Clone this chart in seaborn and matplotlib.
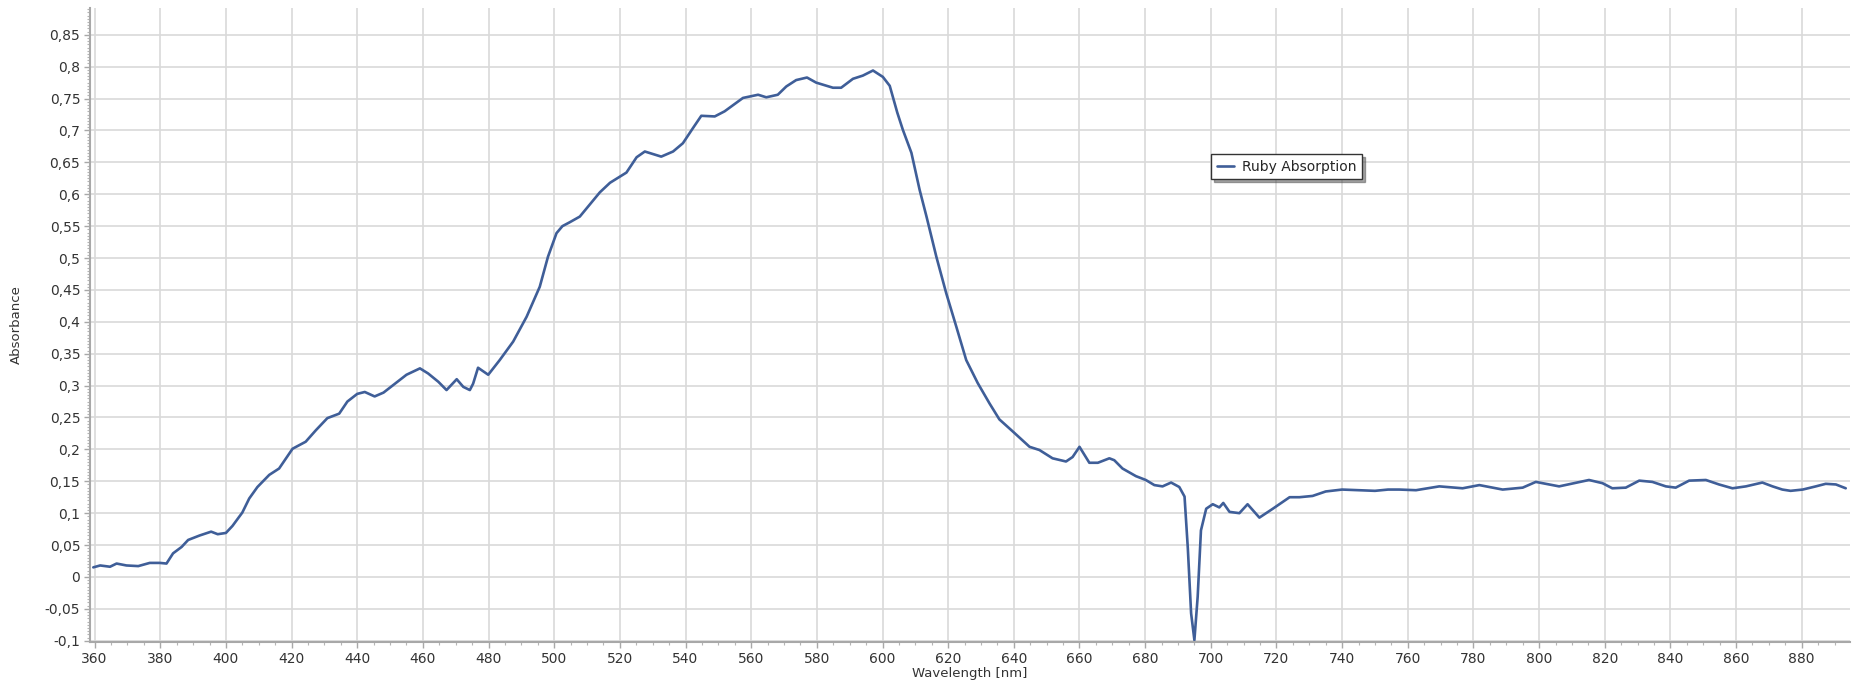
import numpy as np
import pandas as pd
import seaborn as sns
import matplotlib.pyplot as plt
from matplotlib.ticker import MultipleLocator, FuncFormatter

# Ruby absorption spectrum
wavelength = [
    359.6, 361.7, 364.7, 366.7, 369.7, 373.3, 376.8, 379.9, 381.9, 383.9,
    386.5, 388.5, 392.0, 395.5, 397.5, 400.0, 402.0, 405.0, 407.1, 409.6,
    413.2, 416.2, 420.3, 424.3, 427.4, 430.9, 434.5, 437.0, 440.0, 442.3,
    445.3, 448.0, 451.0, 455.0, 459.1, 461.6, 464.7, 467.2, 470.3, 472.3,
    474.3, 475.3, 476.8, 479.9, 483.4, 487.5, 491.6, 495.6, 498.1, 500.7,
    502.5, 504.7, 507.8, 513.9, 517.0, 522.0, 525.1, 527.6, 532.6, 536.2,
    539.2, 542.3, 544.8, 548.9, 551.9, 557.5, 562.1, 564.6, 568.1, 570.7,
    573.7, 577.0, 579.8, 584.9, 587.4, 591.0, 594.0, 597.1, 600.1, 602.2,
    604.5, 606.2, 608.8, 611.3, 613.4, 616.4, 619.4, 622.5, 625.5, 629.0,
    632.6, 635.6, 639.7, 644.8, 647.8, 651.8, 655.9, 657.9, 660.0, 663.0,
    665.6, 669.1, 670.6, 673.1, 677.2, 680.2, 682.8, 685.3, 687.9, 690.4,
    692.0, 693.0, 694.0, 695.0, 696.0, 697.0, 698.6, 700.6, 702.6, 703.8,
    705.7, 708.7, 711.2, 714.8, 718.9, 724.0, 727.0, 731.0, 735.0, 740.0,
    745.0, 750.0, 754.0, 757.4, 762.5, 769.6, 776.7, 781.8, 788.9, 795.0,
    799.0, 806.1, 815.2, 819.3, 822.3, 826.4, 830.5, 834.5, 838.6, 841.6,
    845.7, 850.8, 854.8, 858.9, 863.0, 868.0, 871.1, 874.1, 876.6, 880.3,
    884.3, 887.3, 890.4, 893.4,
]
absorbance = [
    0.015, 0.018, 0.016, 0.021, 0.018, 0.017, 0.022, 0.022, 0.021, 0.037,
    0.047, 0.058, 0.065, 0.071, 0.067, 0.069, 0.080, 0.101, 0.123, 0.141,
    0.160, 0.170, 0.201, 0.212, 0.230, 0.249, 0.256, 0.275, 0.287, 0.290,
    0.283, 0.289, 0.301, 0.317, 0.327, 0.319, 0.306, 0.293, 0.310, 0.298,
    0.293, 0.303, 0.328, 0.317, 0.340, 0.369, 0.408, 0.455, 0.502, 0.539,
    0.550, 0.556, 0.565, 0.603, 0.618, 0.634, 0.658, 0.667, 0.659, 0.667,
    0.680, 0.704, 0.723, 0.722, 0.730, 0.751, 0.756, 0.752, 0.756, 0.769,
    0.779, 0.783, 0.775, 0.767, 0.767, 0.781, 0.786, 0.794, 0.784, 0.770,
    0.728, 0.701, 0.665, 0.607, 0.565, 0.502, 0.445, 0.392, 0.340, 0.304,
    0.272, 0.247, 0.228, 0.204, 0.199, 0.186, 0.181, 0.188, 0.204, 0.179,
    0.179, 0.186, 0.183, 0.170, 0.158, 0.152, 0.144, 0.142, 0.148, 0.141,
    0.126, 0.045, -0.057, -0.099, -0.031, 0.073, 0.107, 0.114, 0.109, 0.116,
    0.102, 0.100, 0.114, 0.093, 0.107, 0.125, 0.125, 0.127, 0.134, 0.137,
    0.136, 0.135, 0.137, 0.137, 0.136, 0.142, 0.139, 0.144, 0.137, 0.140,
    0.149, 0.142, 0.152, 0.147, 0.139, 0.140, 0.151, 0.149, 0.142, 0.140,
    0.151, 0.152, 0.145, 0.139, 0.142, 0.148, 0.142, 0.137, 0.135, 0.137,
    0.142, 0.146, 0.145, 0.139,
]

df = pd.DataFrame({"Wavelength [nm]": wavelength, "Absorbance": absorbance})

sns.set_style("white")
plt.rcParams["font.family"] = ["DejaVu Sans"]

fig = plt.figure(figsize=(18.62, 6.89), dpi=100)
ax = fig.add_axes([90 / 1862, 1 - 642 / 689, 1760 / 1862, 634 / 689])

sns.lineplot(data=df, x="Wavelength [nm]", y="Absorbance", ax=ax,
             estimator=None, sort=False, color="#3f5e98", linewidth=1.9,
             label="Ruby Absorption")

ax.set_xlim(358.6, 894.7)
ax.set_ylim(-0.102, 0.892)

ax.xaxis.set_major_locator(MultipleLocator(20))
ax.xaxis.set_minor_locator(MultipleLocator(5))
ax.yaxis.set_major_locator(MultipleLocator(0.05))
ax.yaxis.set_minor_locator(MultipleLocator(0.005))

def comma_fmt(v, pos):
    v = round(v, 3)
    if v == 0:
        return "0"
    return f"{v:g}".replace(".", ",")

ax.yaxis.set_major_formatter(FuncFormatter(comma_fmt))

ax.grid(True, which="major", color="#d9d9d9", linewidth=1.2)
ax.set_axisbelow(True)

for side in ["top", "right"]:
    ax.spines[side].set_visible(False)
for side in ["left", "bottom"]:
    ax.spines[side].set_color("#a8a8a8")
    ax.spines[side].set_linewidth(1.5)

ax.tick_params(axis="both", which="major", direction="out", length=4,
               width=1, color="#a8a8a8", labelsize=10, labelcolor="#333333",
               left=True, bottom=True, pad=3)
ax.tick_params(axis="both", which="minor", direction="out", length=2,
               width=0.8, color="#b5b5b5", left=True, bottom=True)

ax.set_xlabel("Wavelength [nm]", fontsize=9.5, color="#333333", labelpad=1)
ax.set_ylabel("Absorbance", fontsize=9.5, color="#333333", labelpad=16)

leg = ax.legend(loc="center", bbox_to_anchor=(0.680, 0.750), fontsize=10,
                handlelength=1.2, handletextpad=0.6, frameon=True,
                fancybox=False, shadow=True, borderpad=0.4)
leg.get_frame().set_edgecolor("#333333")
leg.get_frame().set_linewidth(1.0)

fig.savefig("out.png", dpi=100, facecolor="white")
plt.close(fig)
